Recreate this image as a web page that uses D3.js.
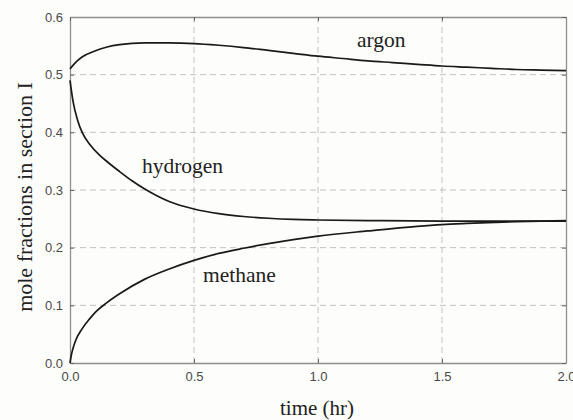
<!DOCTYPE html>
<html>
<head>
<meta charset="utf-8">
<script src="https://cdn.jsdelivr.net/npm/d3@7"></script>
<style>
  body { margin: 0; background: #fdfdfb; }
  svg { display: block; }
</style>
</head>
<body>
<svg id="drawing_region"></svg>
<script>
// values
const argonT  = [0, 0.02, 0.05, 0.1, 0.15, 0.2, 0.3, 0.4, 0.5, 0.6, 0.7, 0.8, 0.9, 1.0, 1.1, 1.2, 1.3, 1.4, 1.5, 1.6, 1.7, 1.8, 1.9, 2.0];
const argonV  = [0.51, 0.52, 0.531, 0.541, 0.548, 0.552, 0.555, 0.555, 0.554, 0.551, 0.547, 0.542, 0.537, 0.532, 0.528, 0.524, 0.521, 0.518, 0.515, 0.513, 0.511, 0.509, 0.508, 0.507];

const hydrogenT = [0, 0.013, 0.03, 0.05, 0.08, 0.12, 0.15, 0.2, 0.25, 0.3, 0.35, 0.4, 0.5, 0.6, 0.7, 0.8, 0.9, 1.0, 1.2, 1.5, 2.0];
const hydrogenV = [0.49, 0.452, 0.422, 0.399, 0.379, 0.360, 0.349, 0.332, 0.316, 0.302, 0.290, 0.280, 0.267, 0.259, 0.254, 0.251, 0.249, 0.248, 0.247, 0.246, 0.246];

const methaneT = [0, 0.005, 0.01, 0.02, 0.05, 0.08, 0.1, 0.15, 0.2, 0.3, 0.4, 0.5, 0.6, 0.7, 0.8, 0.9, 1.0, 1.2, 1.4, 1.5, 1.6, 1.8, 2.0];
const methaneV = [0, 0.013, 0.022, 0.036, 0.060, 0.077, 0.087, 0.105, 0.12, 0.145, 0.163, 0.178, 0.19, 0.199, 0.207, 0.214, 0.22, 0.229, 0.237, 0.24, 0.242, 0.245, 0.247];

const xTicks = [0, 0.5, 1.0, 1.5, 2.0];
const yTicks = [0, 0.1, 0.2, 0.3, 0.4, 0.5, 0.6];

const curveLabels = [
    { name: 'argon',    t: 1.157, v: 0.548 },
    { name: 'hydrogen', t: 0.29,  v: 0.330 },
    { name: 'methane',  t: 0.536, v: 0.141 }
];

const serif = 'Liberation Serif, Times New Roman, serif';

class LineChart {
    constructor( config ) {
        this.config = config;
        this.init();
    }

    init() {
        let self = this;
        self.svg = d3.select( self.config.parent )
            .attr('width', self.config.width)
            .attr('height', self.config.height);

        self.x = d3.scaleLinear().domain([0, 2]).range([70, 566]);
        self.y = d3.scaleLinear().domain([0, 0.6]).range([363, 17]);

        self.line = d3.line()
            .x( d => self.x(d[0]) )
            .y( d => self.y(d[1]) )
            .curve(d3.curveMonotoneX);
    }

    render( series ) {
        let self = this;
        const x = self.x, y = self.y;

        // grid
        self.svg.append('g')
            .selectAll('line')
            .data(xTicks.slice(1, -1))
            .join('line')
            .attr('x1', d => x(d)).attr('x2', d => x(d))
            .attr('y1', y(0)).attr('y2', y(0.6))
            .attr('stroke', '#c2c2c2')
            .attr('stroke-dasharray', '6,4');

        self.svg.append('g')
            .selectAll('line')
            .data(yTicks.slice(1, -1))
            .join('line')
            .attr('x1', x(0)).attr('x2', x(2))
            .attr('y1', d => y(d)).attr('y2', d => y(d))
            .attr('stroke', '#c2c2c2')
            .attr('stroke-dasharray', '6,4');

        // axes
        const xAxis = d3.axisBottom(x).tickValues(xTicks).tickFormat(d3.format('.1f')).tickSizeInner(-4).tickSizeOuter(0).tickPadding(9);
        const yAxis = d3.axisLeft(y).tickValues(yTicks).tickFormat(d3.format('.1f')).tickSizeInner(-4).tickSizeOuter(0).tickPadding(7);
        const xTop = d3.axisTop(x).tickValues(xTicks).tickFormat('').tickSizeInner(-4).tickSizeOuter(0);
        const yRight = d3.axisRight(y).tickValues(yTicks).tickFormat('').tickSizeInner(-4).tickSizeOuter(0);

        const gx = self.svg.append('g').attr('transform', `translate(0,${y(0)})`).call(xAxis);
        const gy = self.svg.append('g').attr('transform', `translate(${x(0)},0)`).call(yAxis);
        const gt = self.svg.append('g').attr('transform', `translate(0,${y(0.6)})`).call(xTop);
        const gr = self.svg.append('g').attr('transform', `translate(${x(2)},0)`).call(yRight);

        [gx, gy, gt, gr].forEach( g => {
            g.select('.domain').attr('stroke', '#8f8f8f').attr('stroke-width', 1.3);
            g.selectAll('.tick line').attr('stroke', '#666');
            g.selectAll('.tick text')
                .attr('fill', '#4a4a4a')
                .attr('font-family', 'Liberation Sans, Arial, sans-serif')
                .attr('font-size', '13px');
        });

        // curves
        self.svg.append('g')
            .selectAll('path')
            .data(series)
            .join('path')
            .attr('d', d => self.line(d))
            .attr('fill', 'none')
            .attr('stroke', '#1a1a1a')
            .attr('stroke-width', 1.7);

        // curve names
        self.svg.append('g')
            .selectAll('text')
            .data(curveLabels)
            .join('text')
            .attr('x', d => x(d.t))
            .attr('y', d => y(d.v))
            .attr('font-family', serif)
            .attr('font-size', '21.5px')
            .attr('fill', '#222')
            .text(d => d.name);

        // axis titles
        self.svg.append('text')
            .attr('x', 317)
            .attr('y', 415)
            .attr('text-anchor', 'middle')
            .attr('font-family', serif)
            .attr('font-size', '21px')
            .attr('fill', '#222')
            .text('time (hr)');

        self.svg.append('text')
            .attr('transform', 'translate(32,197) rotate(-90)')
            .attr('text-anchor', 'middle')
            .attr('font-family', serif)
            .attr('font-size', '22px')
            .attr('fill', '#222')
            .text('mole fractions in section I');
    }
}

const zip = (ts, vs) => ts.map( (t, i) => [t, vs[i]] );

const chart = new LineChart({ parent: '#drawing_region', width: 573, height: 420 });
chart.render([
    zip(argonT, argonV),
    zip(hydrogenT, hydrogenV),
    zip(methaneT, methaneV)
]);
</script>
</body>
</html>
